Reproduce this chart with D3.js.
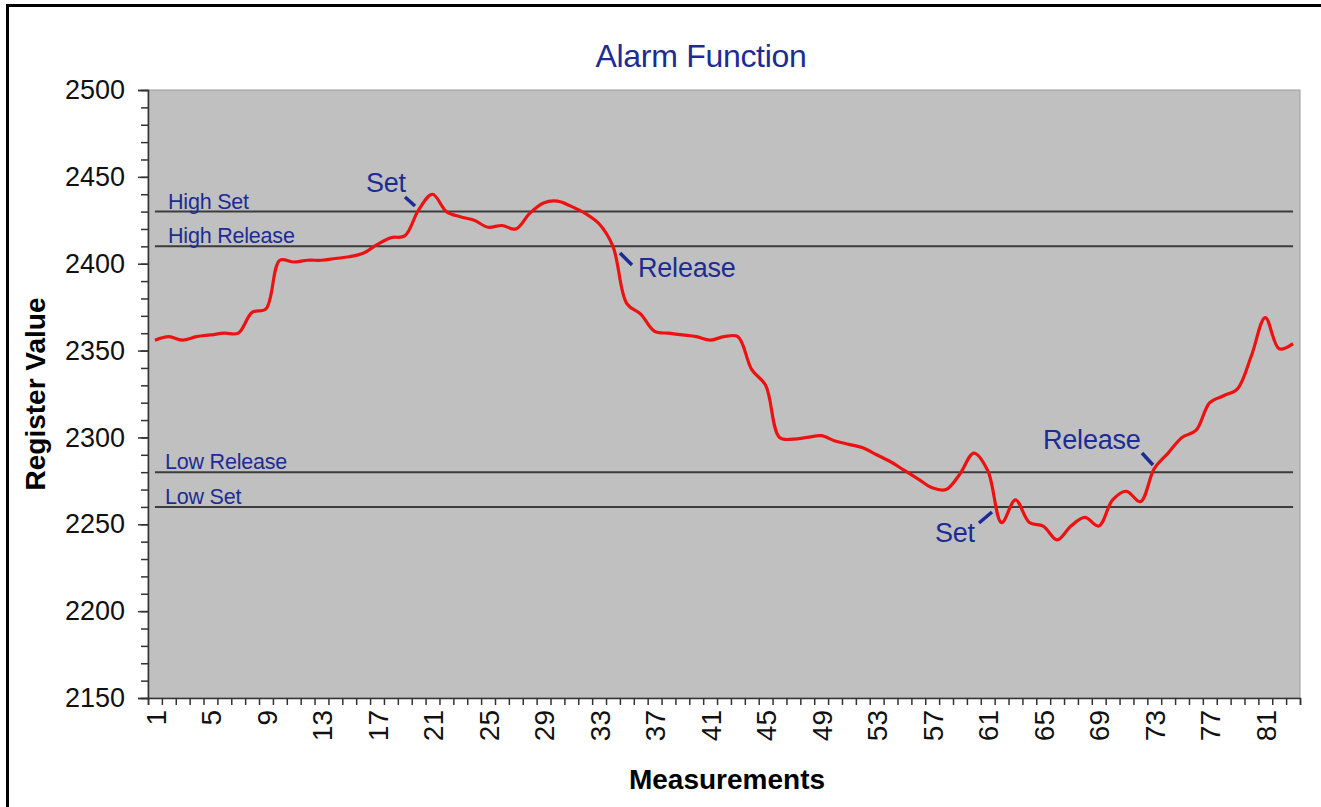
<!DOCTYPE html>
<html>
<head>
<meta charset="utf-8">
<script src="https://cdn.jsdelivr.net/npm/d3@7"></script>
<style>
  body { margin: 0; background: #fff; }
  svg { display: block; font-family: "Liberation Sans", Arial, sans-serif; }
</style>
</head>
<body>
<div id="chart"></div>
<script>
// Data
const measurements = d3.range(1, 84);
const registerValues = [
  2356, 2358, 2356, 2358, 2359, 2360, 2360, 2372, 2374, 2402,
  2401, 2402, 2402, 2403, 2404, 2406, 2411, 2415, 2416, 2431,
  2440, 2430, 2427, 2425, 2421, 2422, 2420, 2429, 2435, 2436,
  2433, 2429, 2423, 2410, 2377, 2371, 2361, 2360, 2359, 2358,
  2356, 2358, 2358, 2339, 2330, 2300, 2299, 2300, 2301, 2298,
  2296, 2294, 2290, 2286, 2281, 2276, 2271, 2270, 2279, 2291,
  2281, 2251, 2264, 2251, 2249, 2241, 2249, 2254, 2249, 2264,
  2269, 2263, 2282, 2291, 2300, 2304, 2320, 2324, 2328, 2347,
  2369, 2351, 2354
];
const thresholdNames = ["High Set", "High Release", "Low Release", "Low Set"];
const thresholdValues = [2430, 2410, 2280, 2260];
const yTicks = [2150, 2200, 2250, 2300, 2350, 2400, 2450, 2500];
const xLabelStep = 4;

const W = 1321, H = 807;
const plot = {left: 148, top: 90, right: 1300, bottom: 698};
const navy = "#1c2c94";

const svg = d3.select("#chart").append("svg")
  .attr("width", W)
  .attr("height", H);

// Outer frame
svg.append("rect")
  .attr("x", 7.5).attr("y", 5.5)
  .attr("width", W + 20).attr("height", H + 20)
  .attr("fill", "#fff")
  .attr("stroke", "#000")
  .attr("stroke-width", 3);

// Scales
const x = d3.scaleLinear()
  .domain([0.5, measurements.length + 0.5])
  .range([plot.left, plot.right]);
const y = d3.scaleLinear()
  .domain([2150, 2500])
  .range([plot.bottom, plot.top]);

// Plot area
svg.append("rect")
  .attr("x", plot.left).attr("y", plot.top)
  .attr("width", plot.right - plot.left)
  .attr("height", plot.bottom - plot.top)
  .attr("fill", "#c0c0c0")
  .attr("stroke", "#9c9c9c")
  .attr("stroke-width", 1);

// Title
svg.append("text")
  .attr("x", 701).attr("y", 67)
  .attr("text-anchor", "middle")
  .attr("fill", navy)
  .style("font-size", "32px")
  .style("letter-spacing", "-0.3px")
  .text("Alarm Function");

// Y axis: minor ticks, then major ticks with labels
svg.append("g")
  .attr("transform", `translate(${plot.left},0)`)
  .call(d3.axisLeft(y).tickValues(d3.range(2150, 2501, 10)).tickSize(7).tickFormat(""))
  .call(g => g.select(".domain").remove())
  .call(g => g.selectAll("line").attr("stroke", "#333").attr("stroke-width", 1.5));

svg.append("g")
  .attr("transform", `translate(${plot.left},0)`)
  .call(d3.axisLeft(y).tickValues(yTicks).tickSize(10).tickPadding(13).tickFormat(d3.format("d")))
  .call(g => g.select(".domain").attr("stroke", "#333").attr("stroke-width", 1.5))
  .call(g => g.selectAll("line").attr("stroke", "#333").attr("stroke-width", 1.5))
  .call(g => g.selectAll("text")
    .attr("fill", "#111")
    .style("font-size", "27px")
    .style("font-family", "'Liberation Sans', Arial, sans-serif"));

// X axis: ticks between categories
svg.append("g")
  .attr("transform", `translate(0,${plot.bottom})`)
  .call(d3.axisBottom(x).tickValues(d3.range(0.5, measurements.length + 1, 1)).tickSize(7).tickFormat(""))
  .call(g => g.select(".domain").attr("stroke", "#333").attr("stroke-width", 1.5))
  .call(g => g.selectAll("line").attr("stroke", "#333").attr("stroke-width", 1.5));

// X labels, rotated
svg.append("g")
  .attr("transform", `translate(0,${plot.bottom})`)
  .call(d3.axisBottom(x)
    .tickValues(measurements.filter(d => (d - 1) % xLabelStep === 0))
    .tickSize(0)
    .tickFormat(d3.format("d")))
  .call(g => g.select(".domain").remove())
  .call(g => g.selectAll("text")
    .attr("transform", "rotate(-90)")
    .attr("x", -12)
    .attr("y", 0)
    .attr("dy", "0.36em")
    .attr("text-anchor", "end")
    .attr("fill", "#111")
    .style("font-size", "28px")
    .style("font-family", "'Liberation Sans', Arial, sans-serif"));

// Axis titles
svg.append("text")
  .attr("transform", `translate(45,${(plot.top + plot.bottom) / 2}) rotate(-90)`)
  .attr("text-anchor", "middle")
  .style("font-size", "28px")
  .style("font-weight", "bold")
  .text("Register Value");

svg.append("text")
  .attr("x", 727).attr("y", 789)
  .attr("text-anchor", "middle")
  .style("font-size", "28px")
  .style("font-weight", "bold")
  .text("Measurements");

// Threshold lines
svg.selectAll("line.threshold")
  .data(thresholdValues)
  .join("line")
  .attr("class", "threshold")
  .attr("x1", x(measurements[0]))
  .attr("x2", x(measurements[measurements.length - 1]))
  .attr("y1", d => y(d))
  .attr("y2", d => y(d))
  .attr("stroke", "#3c3c3c")
  .attr("stroke-width", 2);

// Threshold labels (each sits just above its own line)
svg.selectAll("text.threshold")
  .data(thresholdNames)
  .join("text")
  .attr("class", "threshold")
  .attr("x", (d, i) => i < 2 ? 168 : 165)
  .attr("y", (d, i) => y(thresholdValues[i]) - 3)
  .attr("fill", navy)
  .style("font-size", "21.5px")
  .style("letter-spacing", "-0.2px")
  .text(d => d);

// Signal line
const line = d3.line()
  .x((d, i) => x(measurements[i]))
  .y(d => y(d))
  .curve(d3.curveCatmullRom.alpha(0.5));

svg.append("path")
  .datum(registerValues)
  .attr("d", line)
  .attr("fill", "none")
  .attr("stroke", "#ee1111")
  .attr("stroke-width", 3.2)
  .attr("stroke-linejoin", "round");

// Annotations
const notes = svg.append("g")
  .attr("fill", navy)
  .style("font-size", "27px")
  .style("letter-spacing", "-0.2px");

function note(label, tx, ty, x1, y1, x2, y2) {
  notes.append("text").attr("x", tx).attr("y", ty).text(label);
  notes.append("line")
    .attr("x1", x1).attr("y1", y1).attr("x2", x2).attr("y2", y2)
    .attr("stroke", navy).attr("stroke-width", 3.5);
}

note("Set", 366, 192, 405, 197, 415, 206);
note("Release", 638, 277, 620, 253, 632, 265);
note("Set", 935, 542, 979, 523, 992, 512);
note("Release", 1043, 449, 1142, 453, 1153, 465);
</script>
</body>
</html>
